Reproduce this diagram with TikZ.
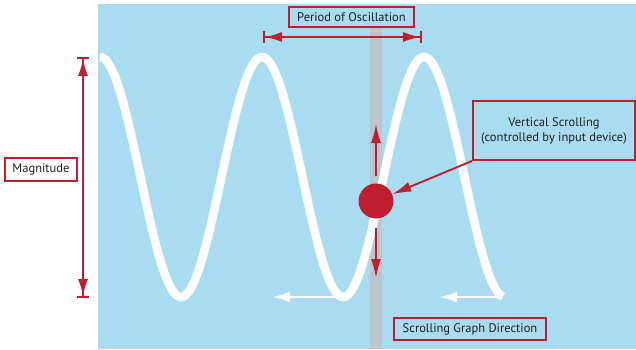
\documentclass[tikz,border=0pt]{standalone}
\usepackage{fontspec}
\setmainfont{PT Sans}
\usepackage{xcolor}
\usetikzlibrary{arrows.meta}
\definecolor{skyblue}{RGB}{169,220,240}
\definecolor{darkred}{RGB}{190,30,45}
\definecolor{bargray}{RGB}{188,198,206}

\begin{document}
\begin{tikzpicture}[x=1pt, y=-1pt, font=\fontsize{12.5}{15}\selectfont,
    lbl/.style={draw=darkred, line width=1.8pt, text=black!88, inner sep=0pt},
    redline/.style={draw=darkred, line width=1.9pt},
    redtip/.style={-{Latex[length=19pt, width=10pt]}},
    dimline/.style={redline, {Bar[width=12pt]Latex[length=17pt, width=10pt]}-{Latex[length=17pt, width=10pt]Bar[width=12pt]}},
    whitearr/.style={draw=white, line width=2.6pt, -{Latex[length=18pt, width=11pt]}}]
        \useasboundingbox (0,0) rectangle (636,349);
        \fill[skyblue] (98,4) rectangle (636,349);
        \fill[bargray] (370,27) rectangle (382,349);

        \draw[white, line width=8.5pt]
          plot[domain=100:503, samples=220] (\x, {177-120*cos((\x-100)*2.22222)});

        \node[lbl, fill=white, minimum width=72pt, minimum height=23pt]
          (mag) at (41,169.5) {Magnitude};
        \node[lbl, fill=skyblue, minimum width=125pt, minimum height=20pt]
          (per) at (351.5,17) {Period of Oscillation};
        \node[lbl, fill=skyblue, align=center, minimum width=162pt, minimum height=59pt]
          (vs) at (554,130.5) {Vertical Scrolling\\(controlled by input device)};
        \node[lbl, fill=skyblue, minimum width=152pt, minimum height=22pt]
          (sgd) at (470,329) {Scrolling Graph Direction};

        \node[circle, fill=darkred, minimum size=35pt, inner sep=0pt] (dot) at (376,201) {};

        \coordinate (magtop) at (83,57);
        \coordinate (magbot) at (83,298);
        \coordinate (perl) at (263,37);
        \coordinate (perr) at (422,37);
        \coordinate (uptip) at (376,124);
        \coordinate (downtip) at (376,278);
        \coordinate (w1s) at (338,297);
        \coordinate (w1e) at (272,297);
        \coordinate (w2s) at (500,297);
        \coordinate (w2e) at (439,297);

        \draw[dimline] (magtop) -- (magbot);
        \draw[dimline] (perl) -- (perr);

        \draw[redline, redtip, shorten <=7pt] (dot) -- (uptip);
        \draw[redline, redtip, shorten <=9pt] (dot) -- (downtip);
        \draw[redline, redtip] (vs.south west) -- (dot);

        \foreach \a/\b in {w1s/w1e, w2s/w2e}
          \draw[whitearr] (\a) -- (\b);
      \end{tikzpicture}
\end{document}
